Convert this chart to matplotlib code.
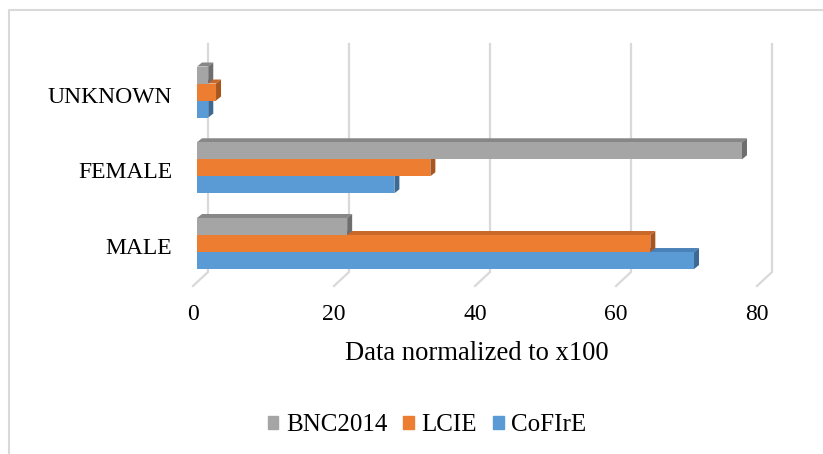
import matplotlib.pyplot as plt
from matplotlib.patches import Polygon, Patch
from matplotlib.lines import Line2D

plt.rcParams["font.family"] = ["Liberation Serif", "DejaVu Serif"]

# share of speakers by gender, normalized to 100 per corpus
categories = ["MALE", "FEMALE", "UNKNOWN"]
cofire = [70.5, 28.0, 1.6]
lcie = [64.3, 33.1, 2.7]
bnc2014 = [21.3, 77.3, 1.6]
ticks = [0, 20, 40, 60, 80]

# bottom-to-top order inside each group
series = [("CoFIrE", cofire), ("LCIE", lcie), ("BNC2014", bnc2014)]
front_col = {"CoFIrE": "#5B9BD5", "LCIE": "#ED7D31", "BNC2014": "#A5A5A5"}
top_col = {"CoFIrE": "#4A82B8", "LCIE": "#C8692A", "BNC2014": "#878787"}
side_col = {"CoFIrE": "#3C6A95", "LCIE": "#A9551E", "BNC2014": "#6E6E6E"}

W, H = 823, 454
fig = plt.figure(figsize=(W / 100, H / 100), dpi=100)
ax = fig.add_axes([197 / W, 1 - 272 / H, 564 / W, 228 / H])
ax.set_xlim(0, 80)
ax.set_ylim(-0.376, 2.634)
ax.axis("off")


def shift(dx, dy):
    """pixel offset -> data offset"""
    inv = ax.transData.inverted()
    x0, y0 = inv.transform((0, 0))
    x1, y1 = inv.transform((dx, dy))
    return x1 - x0, y1 - y0


grid_c = "#D9D9D9"
ylo, yhi = ax.get_ylim()
gx, _ = shift(11, 0)
fx, fy = shift(-4, -14)
tx, ty = shift(-4, -42)
for v in ticks:
    # back-wall gridline, then the floor line running towards the viewer
    ax.plot([v + gx, v + gx, v + fx], [yhi, ylo, ylo + fy], color=grid_c,
            lw=1.6, clip_on=False, zorder=1, solid_joinstyle="miter")
    ax.text(v + tx, ylo + ty, str(v), ha="center", va="center", fontsize=17)

# 3D-style bars: front face plus top and right-hand faces
h = 17 / 75.7
ddx, ddy = shift(5, 4)
z = 2
for i, cat in enumerate(categories):
    for k, (name, vals) in enumerate(series):
        v = vals[i]
        y0 = i - 1.5 * h + k * h
        y1 = y0 + h
        topf = Polygon([(0, y1), (v, y1), (v + ddx, y1 + ddy), (ddx, y1 + ddy)],
                       closed=True, fc=top_col[name], ec="none", zorder=z)
        sidef = Polygon([(v, y0), (v + ddx, y0 + ddy), (v + ddx, y1 + ddy), (v, y1)],
                        closed=True, fc=side_col[name], ec="none", zorder=z)
        ax.add_patch(topf)
        ax.add_patch(sidef)
        ax.barh(y0, v, height=h, align="edge", color=front_col[name],
                zorder=z + 0.5)
        z += 1
    lx, ly = shift(-25, -5)
    ax.text(lx, i + ly, cat, ha="right", va="center", fontsize=17)

fig.text(477 / W, 1 - 353 / H, "Data normalized to x100", ha="center",
         va="center", fontsize=19.2)

handles = [Patch(color=front_col[n], label=n) for n in ["BNC2014", "LCIE", "CoFIrE"]]
fig.legend(handles=handles, loc="center", bbox_to_anchor=(427 / W, 1 - 425 / H),
           ncol=3, frameon=False, fontsize=18, handlelength=0.42,
           handleheight=0.42, handletextpad=0.3, columnspacing=0.65,
           borderpad=0.2)

# chart area border (left and top edges only)
fig.add_artist(Line2D([8.5 / W, 8.5 / W, 1], [0, 1 - 10 / H, 1 - 10 / H],
                      transform=fig.transFigure, color=grid_c, lw=1.5))

fig.savefig("out.png", dpi=100)
